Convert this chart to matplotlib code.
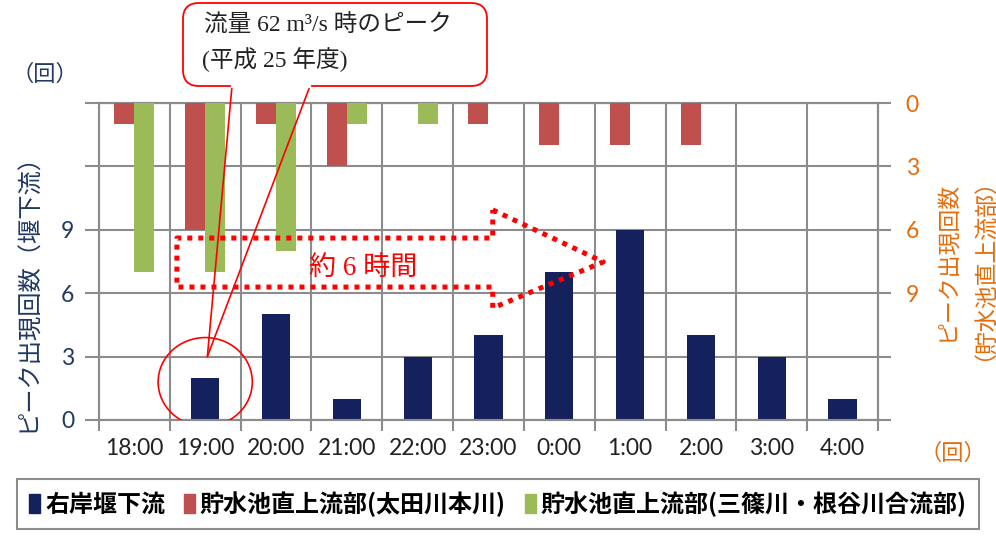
import matplotlib.pyplot as plt
import numpy as np
from matplotlib.patches import Ellipse, FancyBboxPatch, Patch, ConnectionPatch
from matplotlib.lines import Line2D
from matplotlib.transforms import Affine2D

plt.rcParams['font.family'] = ['Lato', 'Noto Sans CJK JP', 'DejaVu Sans']

# 時間帯ごとのピーク出現回数
hours = ['18:00', '19:00', '20:00', '21:00', '22:00', '23:00',
         '0:00', '1:00', '2:00', '3:00', '4:00']
weir_downstream = [0, 2, 5, 1, 3, 4, 7, 9, 4, 3, 1]        # 右岸堰下流（左軸）
ota_main = [1, 6, 1, 3, 0, 1, 2, 2, 2, 0, 0]               # 太田川本川（右軸）
misasa_nedani = [8, 8, 7, 1, 1, 0, 0, 0, 0, 0, 0]          # 三篠川・根谷川合流部（右軸）
y_ticks = [0, 3, 6, 9, 12, 15]
y_labels = ['0', '3', '6', '9', '', '']

navy = '#15215C'
red = '#C0504D'
green = '#9BBB59'
grid_c = '#8C8C8C'
navy_text = '#1F3864'
orange = '#E46C0A'
jp = ['Noto Sans CJK JP']
serif_jp = ['Liberation Serif', 'Noto Sans CJK JP']

W, H = 996, 539
fig = plt.figure(figsize=(W / 100, H / 100), dpi=100)
ax = fig.add_axes([99 / W, 1 - 420 / H, (878 - 99) / W, (420 - 103) / H])
# ピクセル座標（左上原点）用の変換
pix = Affine2D().scale(1 / W, -1 / H).translate(0, 1) + fig.transFigure

x = np.arange(len(hours))
ax.bar(x, weir_downstream, width=0.4, color=navy, zorder=3)
ax.set_xlim(-0.5, len(hours) - 0.5)
ax.set_ylim(0, 15)
ax.set_axisbelow(True)

ax.set_xticks(x)
ax.set_xticklabels(hours)
ax.set_xticks(np.arange(-0.5, len(hours), 1), minor=True)
ax.set_yticks(y_ticks)
ax.set_yticklabels(y_labels)
ax.grid(axis='y', color=grid_c, lw=1.5)
ax.grid(axis='x', which='minor', color=grid_c, lw=1.5)
ax.tick_params(axis='x', which='major', length=0, pad=13, labelsize=16.5, labelcolor='#222222')
ax.tick_params(axis='x', which='minor', length=8, width=1.5, color=grid_c)
ax.tick_params(axis='y', length=10, width=1.5, color=grid_c, labelcolor=navy_text,
               labelsize=16.5, pad=8)

# 貯水池直上流部は右軸（上から下向き）
ax2 = ax.twinx()
ax2.bar(x - 0.145, ota_main, width=0.28, color=red, zorder=3)
ax2.bar(x + 0.14, misasa_nedani, width=0.28, color=green, zorder=3)
ax2.set_ylim(15, 0)
ax2.set_yticks(y_ticks)
ax2.set_yticklabels(y_labels)
ax2.tick_params(axis='y', length=9, width=1.5, color=grid_c, labelcolor=orange,
                labelsize=16.5, pad=11)

for a in (ax, ax2):
    for s in a.spines.values():
        s.set_color(grid_c)
        s.set_linewidth(1.5)

# 軸ラベル
fig.text(28 / W, 1 - 287 / H, 'ピーク出現回数（堰下流）', rotation=90, ha='center', va='center',
         color=navy_text, fontsize=17.5, family=jp)
fig.text(45 / W, 1 - 74 / H, '（回）', ha='center', va='center', color=navy_text,
         fontsize=16, family=jp)
fig.text(947 / W, 1 - 261 / H, 'ピーク出現回数', rotation=90, ha='center', va='center',
         color=orange, fontsize=16.5, family=jp)
fig.text(972 / W, 1 - 258 / H, '（貯水池直上流部）', rotation=90, ha='center', va='center',
         color=orange, fontsize=16.5, family=jp)
fig.text(953 / W, 1 - 453 / H, '（回）', ha='center', va='center', color=orange,
         fontsize=16, family=jp)

# 約6時間のずれを示す点線矢印
arrow_x = [5.06, 6.62, 5.06, 5.06, 0.60, 0.60, 5.06, 5.06]
arrow_y = [9.94, 7.48, 5.30, 6.29, 6.29, 8.61, 8.61, 9.94]
ax2.add_line(Line2D(arrow_x, arrow_y, transform=ax.transData, color='#FF0000', lw=3.6,
                    linestyle=(0, (1, 1.2)), dash_capstyle='butt', solid_joinstyle='miter',
                    zorder=5))
ax2.text(3.23, 7.19, '約 6 時間', transform=ax.transData, ha='center', va='center',
         color='#FF0000', fontsize=19.5, family=serif_jp, zorder=6)

# 19:00 のピークを囲む円
ax2.add_patch(Ellipse((1, 1.8), 1.33, 4.2, transform=ax.transData, fill=False,
                      edgecolor='#FF0000', lw=1.2, zorder=6))

# 吹き出し
box = FancyBboxPatch((183, 3), 304, 83, boxstyle='round,pad=0,rounding_size=16',
                     transform=pix, facecolor='white', edgecolor='#FF0000', lw=1.3)
fig.add_artist(box)
fig.add_artist(Line2D([233, 309], [86, 86], transform=pix, color='white', lw=3))
for sx in (232, 310):
    fig.add_artist(ConnectionPatch(xyA=(sx, 86), coordsA=pix, xyB=(1.03, 3.0),
                                   coordsB=ax.transData, arrowstyle='-', color='#FF0000',
                                   lw=1.2, shrinkA=0, shrinkB=0))
fig.text(204 / W, 1 - 26 / H, '流量 62 m³/s 時のピーク', ha='left', va='center',
         fontsize=17, color='#222222', family=serif_jp)
fig.text(202 / W, 1 - 60 / H, '(平成 25 年度)', ha='left', va='center',
         fontsize=17, color='#222222', family=serif_jp)

# 凡例
handles = [Patch(color=navy), Patch(color=red), Patch(color=green)]
labels = ['右岸堰下流', '貯水池直上流部(太田川本川)', '貯水池直上流部(三篠川・根谷川合流部)']
leg = fig.legend(handles, labels, loc='center', ncol=3,
                 bbox_to_anchor=(498 / W, 1 - 504 / H),
                 prop={'family': jp, 'weight': 'bold', 'size': 17.3},
                 handlelength=0.45, handleheight=0.8, handletextpad=0.2,
                 columnspacing=0.8, borderpad=0.5, borderaxespad=0, fancybox=False,
                 edgecolor=grid_c, framealpha=1)
leg.get_frame().set_linewidth(1.5)

fig.savefig('out.png', dpi=100)
